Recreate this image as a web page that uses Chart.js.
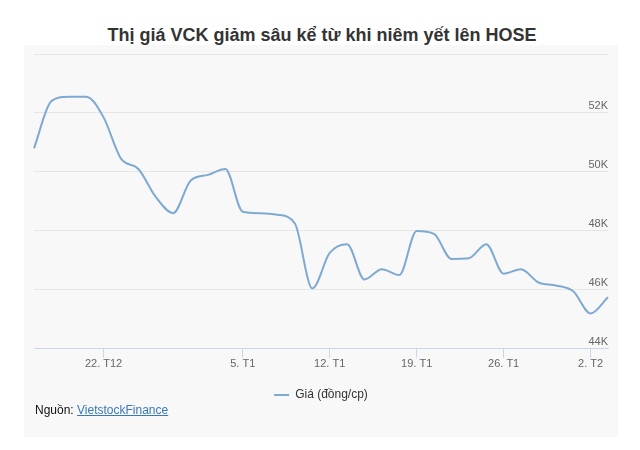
<!DOCTYPE html>
<html lang="vi">
<head>
<meta charset="utf-8">
<title>Thị giá VCK</title>
<script src="https://cdn.jsdelivr.net/npm/chart.js@4.4.1/dist/chart.umd.min.js"></script>
<style>
  html, body { margin: 0; padding: 0; background: #fff; }
  #wrap { position: relative; width: 640px; height: 450px; overflow: hidden; font-family: 'Liberation Sans', Arial, sans-serif; }
  #panel { position: absolute; left: 24px; top: 45px; width: 594px; height: 392px; background: #f8f8f8; }
  h1 { position: absolute; left: 0; top: 24px; width: 644px; margin: 0; text-align: center; font-size: 18px; line-height: 22px; font-weight: bold; color: #333; }
  #cv { position: absolute; left: 0; top: 0; }
  #src { position: absolute; left: 35px; top: 403px; font-size: 12px; color: #111; }
  #src a { color: #3a78b8; text-decoration: underline; }
</style>
</head>
<body>
<div id="wrap">
  <div id="panel"></div>
  <h1>Thị giá VCK giảm sâu kể từ khi niêm yết lên HOSE</h1>
  <canvas id="cv" width="640" height="450"></canvas>
  <div id="src">Nguồn: <a href="#">VietstockFinance</a></div>
</div>
<script>
'use strict';

/* phiên giao dịch (trục ordinal, bỏ cuối tuần và nghỉ Tết dương lịch) */
const days = [
  '16/12', '17/12', '18/12', '19/12',
  '22/12', '23/12', '24/12', '25/12', '26/12',
  '29/12', '30/12', '31/12',
  '05/01', '06/01', '07/01', '08/01', '09/01',
  '12/01', '13/01', '14/01', '15/01', '16/01',
  '19/01', '20/01', '21/01', '22/01', '23/01',
  '26/01', '27/01', '28/01', '29/01', '30/01',
  '02/02', '03/02',
];
/* nhãn trục X chỉ hiện ở thứ Hai */
const tickLabels = { '22/12': '22. T12', '05/01': '5. T1', '12/01': '12. T1', '19/01': '19. T1', '26/01': '26. T1', '02/02': '2. T2' };
const price = [
  50800, 52400, 52550, 52550,
  51850, 50450, 50100, 49150, 48600,
  49700, 49900, 50100,
  48650, 48600, 48550, 48250, 46050,
  47250, 47550, 46350, 46700, 46500,
  48000, 47900, 47050, 47070, 47550,
  46550, 46700, 46250, 46150, 45950,
  45200, 45750,
];
const yTicks = [44000, 46000, 48000, 50000, 52000, 54000];

const LINE = '#7eaad2';
const AXIS = '#ccd6eb';

new Chart(document.getElementById('cv'), {
  type: 'line',
  data: {
    labels: days,
    datasets: [{
      label: 'Giá (đồng/cp)', data: price,
      borderColor: LINE, backgroundColor: LINE, borderWidth: 2,
      pointRadius: 0, cubicInterpolationMode: 'monotone', fill: false,
    }],
  },
  options: {
    responsive: false, animation: false,
    layout: { padding: { left: 34, right: 32, top: 54, bottom: 39 } },
    plugins: {
      title: { display: false },
      tooltip: { enabled: false },
      legend: {
        position: 'bottom',
        labels: {
          color: '#333', font: { family: 'Liberation Sans', size: 12 },
          boxWidth: 15, boxHeight: 2, padding: 18,
          generateLabels: ch => ch.data.datasets.map((d, i) => ({
            text: d.label, fillStyle: LINE, strokeStyle: LINE, lineWidth: 0, datasetIndex: i, fontColor: '#333',
          })),
        },
      },
    },
    scales: {
      x: {
        type: 'category', offset: false,
        border: { display: true, color: AXIS, width: 1 },
        grid: {
          drawOnChartArea: false, drawTicks: true, tickLength: 9,
          tickColor: c => (tickLabels[days[c.index]] ? AXIS : 'rgba(0,0,0,0)'),
        },
        ticks: {
          autoSkip: false, maxRotation: 0, padding: 0,
          color: '#666', font: { family: 'Liberation Sans', size: 11 },
          callback: (v, i) => tickLabels[days[i]] || '',
        },
      },
      y: {
        position: 'right', min: 44000, max: 54000,
        afterBuildTicks: s => { s.ticks = yTicks.map(v => ({ value: v })); },
        border: { display: false },
        grid: { color: '#e6e6e6', drawTicks: false },
        ticks: {
          mirror: true, padding: 0, labelOffset: -7,
          color: '#666', font: { family: 'Liberation Sans', size: 11 },
          callback: v => (v === 54000 ? '' : (v / 1000) + 'K'),
        },
      },
    },
  },
});
</script>
</body>
</html>
